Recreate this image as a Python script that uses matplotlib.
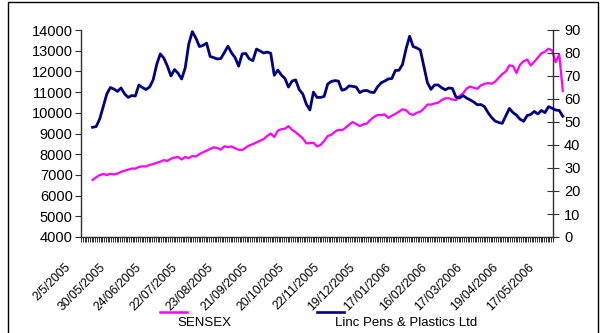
import numpy as np
import matplotlib.pyplot as plt
import matplotlib.transforms as mtransforms
from matplotlib.lines import Line2D
from matplotlib.patches import Rectangle

plt.rcParams['font.family'] = ['Liberation Sans', 'DejaVu Sans']

# trading-day index of each reading (read every second session)
day_idx = np.arange(6, 272, 2)

sensex = [6754, 6884, 6995, 7043, 6995, 7053, 7019, 7068, 7150, 7203,
          7261, 7309, 7299, 7386, 7415, 7405, 7488, 7517, 7584, 7638,
          7715, 7671, 7783, 7840, 7865, 7744, 7865, 7807, 7913, 7884,
          8010, 8092, 8179, 8251, 8333, 8295, 8222, 8382, 8343, 8377,
          8285, 8217, 8203, 8319, 8425, 8488, 8570, 8647, 8729, 8879,
          9000, 8831, 9135, 9208, 9232, 9353, 9179, 9063, 8918, 8768,
          8526, 8531, 8555, 8372, 8449, 8638, 8879, 8937, 9082, 9179,
          9155, 9275, 9420, 9555, 9459, 9362, 9440, 9483, 9657, 9802,
          9898, 9894, 9923, 9749, 9860, 9947, 10053, 10169, 10121, 9956,
          9894, 10000, 10053, 10203, 10401, 10396, 10449, 10483, 10618, 10700,
          10700, 10638, 10613, 10821, 10937, 11174, 11270, 11208, 11159, 11328,
          11391, 11440, 11401, 11507, 11686, 11870, 11995, 12295, 12261, 11923,
          12324, 12493, 12575, 12285, 12469, 12667, 12874, 12952, 13097, 13010,
          12440, 12833, 11050]

linc = [47.7, 48.0, 51.3, 56.7, 62.2, 65.0, 64.3, 63.3, 64.8, 62.2,
        60.7, 61.5, 61.3, 66.1, 65.0, 64.1, 65.2, 68.3, 75.0, 79.6,
        77.8, 74.3, 70.0, 72.8, 71.2, 68.7, 73.5, 83.9, 89.3, 86.5,
        82.8, 83.3, 84.3, 78.5, 78.0, 77.4, 77.6, 80.2, 83.0, 80.1,
        78.0, 74.3, 79.6, 79.8, 77.4, 76.7, 81.7, 80.9, 80.0, 80.4,
        79.9, 70.3, 72.6, 70.4, 68.9, 65.2, 67.8, 68.3, 64.1, 62.2,
        57.8, 55.2, 63.0, 60.7, 60.7, 61.1, 66.5, 67.6, 68.0, 67.8,
        63.8, 64.3, 65.7, 65.5, 65.2, 62.8, 63.6, 63.7, 63.0, 62.8,
        65.3, 67.0, 67.8, 68.7, 68.9, 72.4, 72.5, 75.0, 81.8, 87.3,
        82.8, 82.2, 81.3, 74.3, 67.1, 64.2, 66.1, 66.1, 64.9, 64.0,
        64.8, 64.6, 60.9, 60.4, 61.5, 60.4, 59.6, 58.7, 57.5, 57.6,
        56.7, 54.1, 52.0, 50.4, 49.8, 49.4, 52.6, 55.9, 54.1, 53.0,
        51.2, 50.3, 52.8, 53.3, 54.6, 53.5, 55.0, 54.1, 56.7, 56.0,
        55.2, 55.0, 52.5]

date_labels = ['2/5/2005', '30/05/2005', '24/06/2005', '22/07/2005',
               '23/08/2005', '21/09/2005', '20/10/2005', '22/11/2005',
               '19/12/2005', '17/01/2006', '16/02/2006', '17/03/2006',
               '19/04/2006', '17/05/2006']
label_idx = np.arange(0, 261, 20)
n_days = 265

W, H = 605, 333
fig = plt.figure(figsize=(W / 100, H / 100), dpi=100)
ax = fig.add_axes([81 / W, 1 - 237 / H, 472 / W, 207 / H])
ax2 = ax.twinx()

ax.plot(day_idx, sensex, color='#FF00FF', lw=1.6, clip_on=False, zorder=3)
ax2.plot(day_idx, linc, color='#000080', lw=2.0, clip_on=False, zorder=3)

ax.set_xlim(-0.5, n_days - 0.5)
ax.set_ylim(4000, 14000)
ax2.set_ylim(0, 90)

for s in ['top', 'right']:
    ax.spines[s].set_visible(False)
for s in ['top', 'left', 'bottom']:
    ax2.spines[s].set_visible(False)
for sp in [ax.spines['left'], ax.spines['bottom'], ax2.spines['right']]:
    sp.set_color('#303030')
    sp.set_linewidth(1.0)

ax.set_yticks(range(4000, 14001, 1000))
ax.tick_params(axis='y', length=4, width=0.8, pad=2, labelsize=10.5,
               color='#303030')
ax2.set_yticks(range(0, 91, 10))
ax2.tick_params(axis='y', direction='inout', length=8, width=0.8, pad=4,
                labelsize=10.5, color='#303030')

ax.set_xticks(label_idx)
ax.set_xticklabels(date_labels, rotation=45, ha='right', va='top',
                   fontsize=8.8)
ax.tick_params(axis='x', which='major', length=0, pad=8)
ax.set_xticks(np.arange(-0.5, n_days, 1), minor=True)
ax.tick_params(axis='x', which='minor', length=3.5, width=0.7,
               color='#303030')
shift = mtransforms.ScaledTranslation(-9 / 100, -13 / 100, fig.dpi_scale_trans)
for lab in ax.get_xticklabels():
    lab.set_transform(lab.get_transform() + shift)

# legend drawn below the plot
ly = 1 - 311.5 / H
ty = 1 - 323 / H
fig.add_artist(Line2D([160 / W, 187 / W], [ly, ly], color='#FF00FF', lw=1.8))
fig.text(177 / W, ty, 'SENSEX', fontsize=9.5, va='center', ha='left')
fig.add_artist(Line2D([317 / W, 344 / W], [ly, ly], color='#000080', lw=1.9))
fig.text(335 / W, ty, 'Linc Pens & Plastics Ltd', fontsize=9.5,
         va='center', ha='left')

# chart frame
fig.add_artist(Rectangle((8 / W, -0.05), 590 / W, 1.05 - 2 / H,
                         transform=fig.transFigure, fill=False,
                         edgecolor='black', lw=1.0))

fig.savefig('out.png', dpi=100)
